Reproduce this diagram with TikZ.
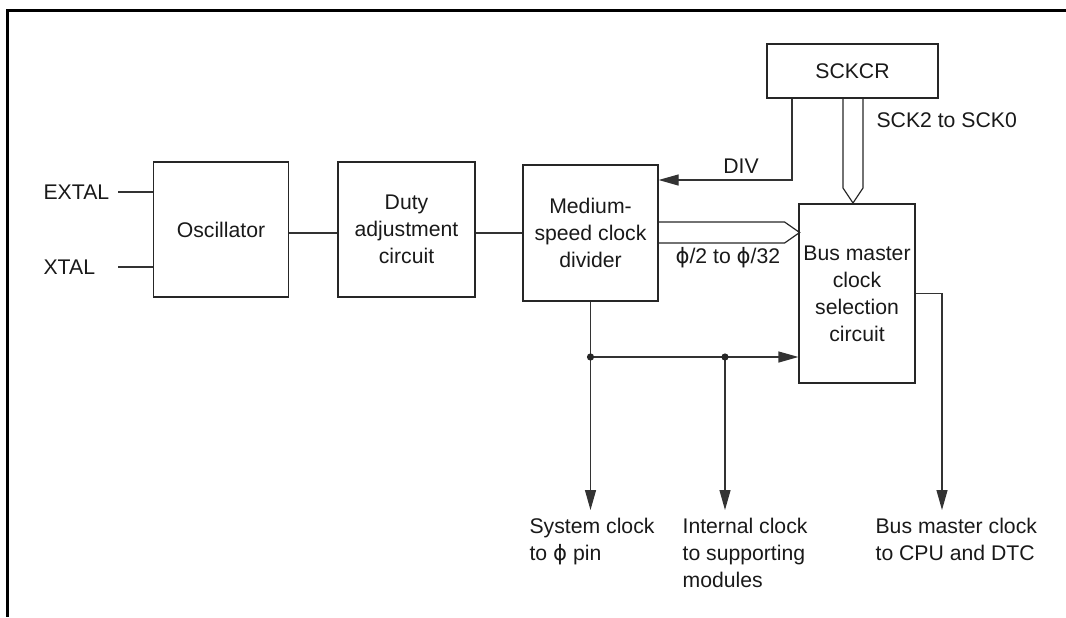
\documentclass[tikz,border=0pt]{standalone}
\usepackage{fontspec}
\setmainfont{Liberation Sans}
\newfontfamily\phifont{DejaVu Sans}
\usetikzlibrary{arrows.meta}
\newcommand{\ph}{{\phifont ϕ}}

\begin{document}
\begin{tikzpicture}[x=0.5pt, y=-0.5pt, line width=0.6pt,
    every node/.style={font=\fontsize{10.6}{13.5}\selectfont, text=black!90, inner sep=0pt},
    blk/.style={draw=black!85, align=center},
    lbl/.style={align=left},
    arr/.style={draw=black!80, -{Triangle[length=10pt, width=5.5pt]}},
    wire/.style={draw=black!80},
    bus/.style={draw=black!85, line join=miter}]
\useasboundingbox (0,0) rectangle (1066,617);
% frame
\draw[line width=1.5pt] (1066,10) -- (7,10) -- (7,617);

% blocks
\node[blk, minimum width=67.5pt, minimum height=67.5pt] (osc)   at (221,229.5) {Oscillator};
\node[blk, minimum width=68.5pt, minimum height=67.5pt] (duty)  at (406.5,229.5) {Duty\\adjustment\\circuit};
\node[blk, minimum width=67.5pt, minimum height=68pt]   (mdiv)  at (590.5,233) {Medium-\\speed clock\\divider};
\node[blk, minimum width=85.5pt, minimum height=27pt]   (sckcr) at (852.5,71) {SCKCR};
\node[blk, minimum width=58pt, minimum height=89.5pt]   (bmsel) at (857,293.5) {Bus master\\clock\\selection\\circuit};

% pins
\node[lbl, anchor=west] (extal) at (43,192) {EXTAL};
\node[lbl, anchor=west] (xtal)  at (43,267) {XTAL};
\coordinate (ex) at (118,192);
\coordinate (xt) at (118,267);
\draw[wire] (ex) -- (ex -| osc.west);
\draw[wire] (xt) -- (xt -| osc.west);

% chain
\draw[wire] (osc.east |- mdiv) -- (duty.west |- mdiv);
\draw[wire] (duty.east |- mdiv) -- (mdiv.west);

% DIV
\draw[arr] ([xshift=-30.25pt]sckcr.south) |- ([yshift=26.5pt]mdiv.east);
\node (divl) at (741,166) {DIV};

% SCK bus
\coordinate (sckbus) at (853,98);
\draw[bus] ([xshift=-5pt]sckbus) -- ++(0,90) -- ++(10,15) -- ++(10,-15) -- ++(0,-90);
\node[anchor=west] (sckl) at (876,120) {SCK2 to SCK0};

% phi bus
\draw[bus] ([yshift=5.5pt]mdiv.east) -- ++(126,0) -- ++(15,10.5) -- ++(-15,10.5) -- ++(-126,0);
\node[anchor=west] (phil) at (675,258) {\ph/2 to \ph/32};

% clock outputs
\coordinate (j1) at (590.5,357);
\coordinate (j2) at (725,357);
\coordinate (sysend) at (590.5,510);
\coordinate (intend) at (725,510);
\coordinate (bmend) at (942,510);
\draw[arr] (mdiv.south) -- (sysend);
\draw[arr] (j1) -- (j1 -| bmsel.west);
\draw[arr] (j2) -- (intend);
\draw[arr] (bmsel.east) -| (bmend);
\fill[black!85] (j1) circle (1.8pt) (j2) circle (1.8pt);

\node[lbl, anchor=north west] (sysl) at (529,518) {System clock\\to \ph{} pin};
\node[lbl, anchor=north west] (intl) at (682,518) {Internal clock\\to supporting\\modules};
\node[lbl, anchor=north west] (bml)  at (875,518) {Bus master clock\\to CPU and DTC};
\end{tikzpicture}
\end{document}
